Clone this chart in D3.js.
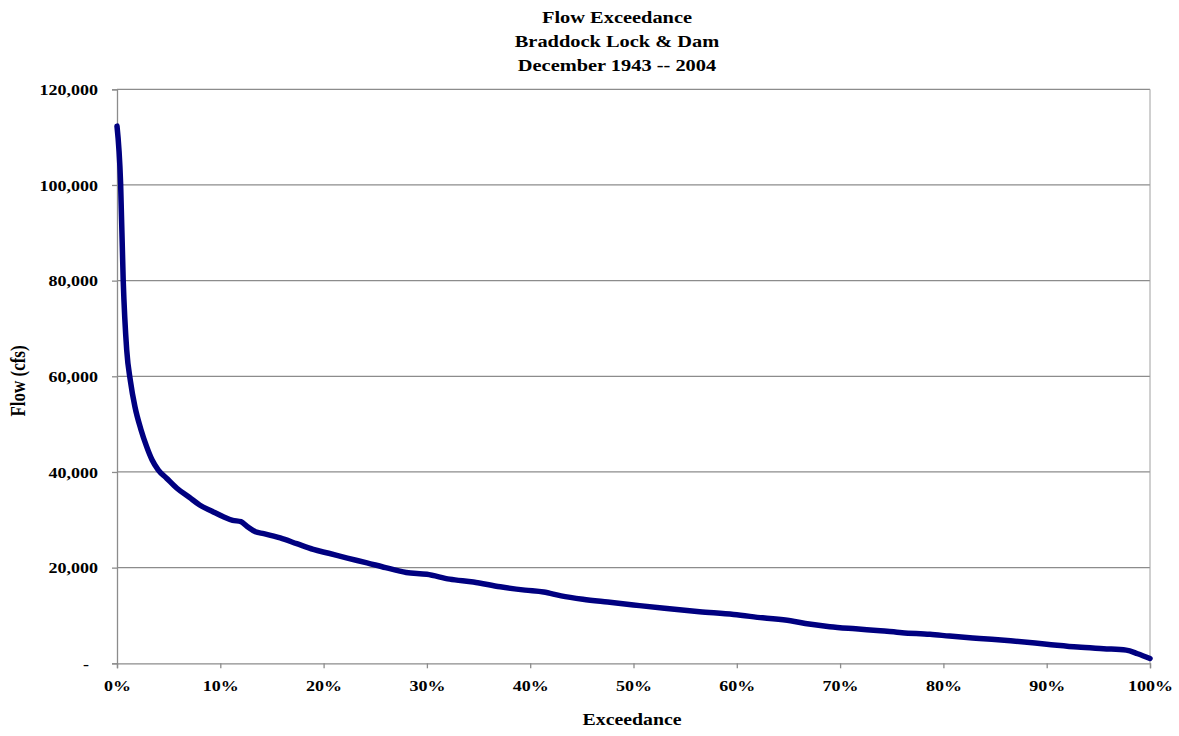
<!DOCTYPE html>
<html>
<head>
<meta charset="utf-8">
<script src="https://cdn.jsdelivr.net/npm/d3@7"></script>
<style>
  html, body { margin: 0; padding: 0; background: #fff; }
  svg text { font-family: "Liberation Serif", "Times New Roman", serif; font-weight: bold; fill: #000; }
</style>
</head>
<body>
<svg id="chart" width="1179" height="736"></svg>
<script>
// ---- data ----
const titleLines = ["Flow Exceedance", "Braddock Lock & Dam", "December 1943 -- 2004"];
const xLabel = "Exceedance";
const yLabel = "Flow (cfs)";
const exceedance = [0, 0.35, 0.6, 0.94, 1.3, 1.74, 2.3, 2.87, 3.4, 4.0, 4.8, 5.8, 7.0, 8.0, 9.2, 10.3, 11.2, 12.0, 12.6, 13.4, 14.2, 15.8, 17.4, 19.0, 20.5, 22.3, 24.2, 26.0, 28.0, 30.0, 32.2, 34.5, 37.1, 39.5, 41.3, 43.0, 45.1, 47.5, 50.0, 53.0, 56.4, 59.7, 62.5, 65.2, 67.0, 69.0, 71.5, 73.9, 76.0, 78.7, 80.6, 83.5, 86.5, 90.0, 93.0, 95.5, 97.7, 98.8, 100];
const flow = [112300, 100300, 80100, 65500, 59000, 53600, 49000, 45300, 42500, 40400, 38700, 36600, 34700, 33100, 31800, 30650, 29900, 29600, 28600, 27500, 27100, 26200, 25000, 23800, 23000, 22000, 21000, 20000, 19000, 18600, 17600, 17000, 16000, 15300, 14900, 14100, 13400, 12800, 12200, 11500, 10800, 10200, 9500, 8900, 8200, 7650, 7200, 6800, 6400, 6050, 5700, 5200, 4700, 4000, 3400, 3050, 2750, 2000, 1000];
const xTicks = [0, 10, 20, 30, 40, 50, 60, 70, 80, 90, 100];
const yTicks = [0, 20000, 40000, 60000, 80000, 100000, 120000];

// ---- layout ----
const L = 117, R = 1150, T = 89.3, B = 663.3;
const SX = 1.2; // horizontal text stretch
const svg = d3.select("#chart");
const x = d3.scaleLinear().domain([0, 100]).range([L, R]);
const y = d3.scaleLinear().domain([0, 120000]).range([B, T]);
const gridColor = "#8c8c8c";

function stretchText(sel, fx, fy) {
  sel.attr("x", null).attr("y", null)
     .attr("transform", `translate(${fx},${fy}) scale(${SX},1)`);
}

// gridlines
svg.append("g").selectAll("line").data(yTicks.filter(d => d > 0)).join("line")
  .attr("x1", L).attr("x2", R).attr("y1", d => y(d)).attr("y2", d => y(d))
  .attr("stroke", gridColor).attr("stroke-width", 1.3);
// right border
svg.append("line").attr("x1", R).attr("x2", R).attr("y1", T).attr("y2", B)
  .attr("stroke", "#a0a0a0").attr("stroke-width", 1);

// y axis
const yAxis = svg.append("g").attr("transform", `translate(${L},0)`)
  .call(d3.axisLeft(y).tickValues(yTicks).tickSize(5).tickPadding(0)
    .tickFormat(d => d === 0 ? "-" : d3.format(",")(d)));
yAxis.select(".domain").attr("stroke", gridColor).attr("stroke-width", 1.3);
yAxis.selectAll(".tick line").attr("stroke", gridColor).attr("stroke-width", 1.3);
yAxis.selectAll(".tick text").each(function(d) {
  const t = d3.select(this);
  t.attr("font-size", 15).attr("text-anchor", "end").attr("dy", "0.35em")
   .style("font-family", "'Liberation Serif', serif").style("font-weight", "bold");
  stretchText(t, d === 0 ? -28 : -19, 0);
});

// x axis
const xAxis = svg.append("g").attr("transform", `translate(0,${B})`)
  .call(d3.axisBottom(x).tickValues(xTicks).tickSize(5).tickPadding(0)
    .tickFormat(d => d + "%"));
xAxis.select(".domain").attr("stroke", gridColor).attr("stroke-width", 1.3);
xAxis.selectAll(".tick line").attr("stroke", gridColor).attr("stroke-width", 1.3);
xAxis.selectAll(".tick text").each(function() {
  const t = d3.select(this);
  t.attr("font-size", 15).attr("text-anchor", "middle").attr("dy", null)
   .style("font-family", "'Liberation Serif', serif").style("font-weight", "bold");
  stretchText(t, 0, 28);
});

// line
const pts = exceedance.map((e, i) => [e, flow[i]]);
svg.append("path").datum(pts)
  .attr("fill", "none").attr("stroke", "#000080").attr("stroke-width", 5.5)
  .attr("stroke-linejoin", "round").attr("stroke-linecap", "round")
  .attr("d", d3.line().x(d => x(d[0])).y(d => y(d[1])).curve(d3.curveMonotoneX));

// title
const cx = 617;
titleLines.forEach((s, i) => {
  const t = svg.append("text").text(s).attr("font-size", 17).attr("text-anchor", "middle");
  stretchText(t, cx, 23 + i * 24);
});

// axis titles
const xt = svg.append("text").text(xLabel).attr("font-size", 16.5).attr("text-anchor", "middle");
stretchText(xt, 632, 725);
svg.append("text").text(yLabel).attr("font-size", 17).attr("text-anchor", "middle")
  .attr("transform", `translate(25,381) scale(${SX},1) rotate(-90)`);
</script>
</body>
</html>
